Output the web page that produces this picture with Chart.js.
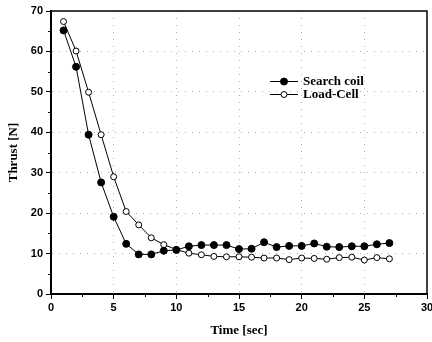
<!DOCTYPE html>
<html>
<head>
<meta charset="utf-8">
<script src="https://cdn.jsdelivr.net/npm/chart.js@4.4.1/dist/chart.umd.min.js"></script>
<style>
html,body{margin:0;padding:0;background:#fff;}
#wrap{width:432px;height:342px;position:relative;}
</style>
</head>
<body>
<div id="wrap"><canvas id="c" width="432" height="342"></canvas></div>
<script>
const time = [1,2,3,4,5,6,7,8,9,10,11,12,13,14,15,16,17,18,19,20,21,22,23,24,25,26,27];
const searchCoil = [65.2,56.2,39.4,27.6,19.1,12.4,9.8,9.8,10.7,10.9,11.8,12.1,12.1,12.1,11.1,11.2,12.8,11.6,11.9,11.9,12.5,11.7,11.6,11.8,11.8,12.3,12.6];
const loadCell = [67.4,60.1,49.9,39.4,29.0,20.4,17.1,13.9,12.2,11.0,10.1,9.7,9.3,9.2,9.2,9.1,8.9,8.9,8.5,8.9,8.8,8.6,9.0,9.1,8.4,9.0,8.7];
const seriesNames = ['Search coil','Load-Cell'];
const xTitle = 'Time [sec]';
const yTitle = 'Thrust [N]';

const tickFont = {family:'"Liberation Sans", Arial, sans-serif', size:11, weight:'bold'};
const titleFont = {family:'"Liberation Serif", "Times New Roman", serif', size:13, weight:'bold'};

const gridColor = (ctx) => {
  const v = ctx.tick ? ctx.tick.value : null;
  const s = ctx.scale;
  if (v === null || v === s.min || v === s.max) return 'rgba(0,0,0,0)';
  return 'rgba(120,120,120,0.6)';
};

const framePlugin = {
  id:'frame',
  afterDraw(chart){
    const {ctx, chartArea:a, scales} = chart;
    ctx.save();
    ctx.setLineDash([]);
    ctx.strokeStyle = '#000';
    ctx.lineWidth = 1.5;
    ctx.beginPath();
    ctx.moveTo(a.left, a.top); ctx.lineTo(a.right, a.top); ctx.lineTo(a.right, a.bottom);
    ctx.stroke();
    // minor ticks
    ctx.lineWidth = 1;
    const xs = scales.x, ys = scales.y;
    for (let v = xs.min + 2.5; v < xs.max; v += 5) {
      const px = Math.round(xs.getPixelForValue(v)) + 0.5;
      ctx.beginPath(); ctx.moveTo(px, a.bottom); ctx.lineTo(px, a.bottom + 3); ctx.stroke();
    }
    for (let v = ys.min + 5; v < ys.max; v += 10) {
      const py = Math.round(ys.getPixelForValue(v)) + 0.5;
      ctx.beginPath(); ctx.moveTo(a.left, py); ctx.lineTo(a.left - 3, py); ctx.stroke();
    }
    // legend inside plot
    const items = chart.data.datasets;
    const lx1 = 270, lx2 = 298, mx = 284, tx = 303;
    const rows = [81, 94];
    ctx.font = 'bold 13px "Liberation Serif", "Times New Roman", serif';
    ctx.textBaseline = 'middle';
    ctx.textAlign = 'left';
    items.forEach((ds, i) => {
      const y = rows[i];
      ctx.strokeStyle = ds.borderColor;
      ctx.lineWidth = 1;
      ctx.beginPath(); ctx.moveTo(lx1, y + 0.5); ctx.lineTo(lx2, y + 0.5); ctx.stroke();
      ctx.beginPath(); ctx.arc(mx, y + 0.5, ds.pointRadius, 0, Math.PI * 2);
      ctx.fillStyle = ds.pointBackgroundColor; ctx.fill();
      ctx.lineWidth = ds.pointBorderWidth; ctx.strokeStyle = ds.pointBorderColor; ctx.stroke();
      ctx.fillStyle = '#000';
      ctx.fillText(ds.label, tx, y + 1);
    });
    ctx.restore();
  }
};

new Chart(document.getElementById('c'), {
  type:'line',
  data:{
    datasets:[
      {label:seriesNames[0], data:time.map((t,i)=>({x:t,y:searchCoil[i]})),
       borderColor:'#000', borderWidth:1, pointRadius:3.5, pointBackgroundColor:'#000',
       pointBorderColor:'#000', pointBorderWidth:1, tension:0},
      {label:seriesNames[1], data:time.map((t,i)=>({x:t,y:loadCell[i]})),
       borderColor:'#000', borderWidth:1, pointRadius:3, pointBackgroundColor:'#fff',
       pointBorderColor:'#000', pointBorderWidth:1, tension:0}
    ]
  },
  options:{
    responsive:false, animation:false, devicePixelRatio:1,
    layout:{padding:{top:11, right:4, left:0, bottom:0}},
    plugins:{legend:{display:false}, tooltip:{enabled:false}},
    scales:{
      x:{type:'linear', min:0, max:30,
        ticks:{stepSize:5, font:tickFont, color:'#000', padding:2, maxRotation:0},
        grid:{color:gridColor, lineWidth:1, drawTicks:true, tickLength:5, tickColor:'#000', tickWidth:1, tickBorderDash:[]},
        border:{display:true, color:'#000', width:2, dash:[1,6]},
        title:{display:true, text:xTitle, font:titleFont, color:'#000', padding:{top:0,bottom:4}},
        afterFit(s){ s.height = 48; s.paddingLeft = 0; s.paddingRight = 0; }
      },
      y:{min:0, max:70,
        ticks:{stepSize:10, font:tickFont, color:'#000', padding:3},
        grid:{color:gridColor, lineWidth:1, drawTicks:true, tickLength:5, tickColor:'#000', tickWidth:1, tickBorderDash:[]},
        border:{display:true, color:'#000', width:2, dash:[1,6]},
        title:{display:true, text:yTitle, font:titleFont, color:'#000', padding:{top:6,bottom:0}},
        afterFit(s){ s.width = 51; s.paddingTop = 0; s.paddingBottom = 0; }
      }
    }
  },
  plugins:[framePlugin]
});
</script>
</body>
</html>
